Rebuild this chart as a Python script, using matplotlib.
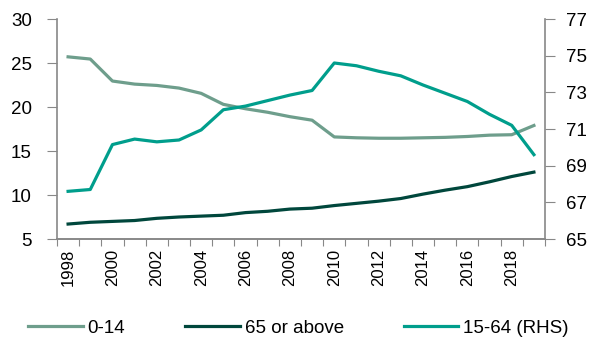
import matplotlib.pyplot as plt
import numpy as np

plt.rcParams["font.family"] = ["Liberation Sans", "DejaVu Sans"]

years = list(range(1998, 2020))
age_0_14 = [25.7, 25.45, 22.95, 22.6, 22.45, 22.15, 21.55, 20.3, 19.8, 19.4, 18.9,
            18.5, 16.6, 16.5, 16.45, 16.45, 16.5, 16.55, 16.65, 16.8, 16.85, 17.9]
age_65_plus = [6.7, 6.9, 7.0, 7.1, 7.35, 7.5, 7.6, 7.7, 8.0, 8.15, 8.4,
               8.5, 8.8, 9.05, 9.3, 9.6, 10.1, 10.55, 10.95, 11.5, 12.1, 12.6]
age_15_64 = [67.6, 67.7, 70.15, 70.45, 70.3, 70.4, 70.95, 72.05, 72.25, 72.55, 72.85,
             73.1, 74.6, 74.45, 74.15, 73.9, 73.4, 72.95, 72.5, 71.8, 71.2, 69.6]

c_young = "#6e9e8c"
c_old = "#00473c"
c_work = "#009e8c"
grey = "#888888"

fig = plt.figure(figsize=(5.97, 3.42), dpi=100)
ax = fig.add_axes([57 / 597, 1 - 239 / 342, (545 - 57) / 597, (239 - 19) / 342])
ax2 = ax.twinx()

x = np.arange(len(years))
l1, = ax.plot(x, age_0_14, color=c_young, lw=2.3, label="0-14")
l2, = ax.plot(x, age_65_plus, color=c_old, lw=2.3, label="65 or above")
l3, = ax2.plot(x, age_15_64, color=c_work, lw=2.3, label="15-64 (RHS)")

ax.set_xlim(-0.5, len(years) - 0.5)
ax.set_ylim(5, 30)
ax.set_yticks(range(5, 31, 5))
ax2.set_ylim(65, 77)
ax2.set_yticks(range(65, 78, 2))

# category ticks sit between the years, labels every other year
ax.set_xticks(np.arange(-0.5, len(years), 1.0))
ax.set_xticklabels([])
ax.set_xticks(x[::2], minor=True)
ax.set_xticklabels([str(y) for y in years[::2]], minor=True, rotation=90, fontsize=12)
ax.tick_params(axis="x", which="minor", length=0, pad=7)
ax.tick_params(axis="x", which="major", length=5, color=grey, direction="out")

ax.tick_params(axis="y", length=7, color=grey, labelsize=13.5, pad=11)
ax2.tick_params(axis="y", length=7, color=grey, labelsize=13.5, pad=8)

for a in (ax, ax2):
    a.spines["top"].set_visible(False)
    for s in ("left", "right", "bottom"):
        a.spines[s].set_color(grey)
        a.spines[s].set_linewidth(1.2)
ax.spines["right"].set_visible(False)
ax2.spines["left"].set_visible(False)

fig.legend(handles=[l1, l2, l3], loc="center", bbox_to_anchor=(0.5, 1 - 328 / 342),
           ncol=3, frameon=False, fontsize=13.5, handlelength=2.9,
           handletextpad=0.27, columnspacing=3.2)

fig.savefig("out.png", dpi=100)
